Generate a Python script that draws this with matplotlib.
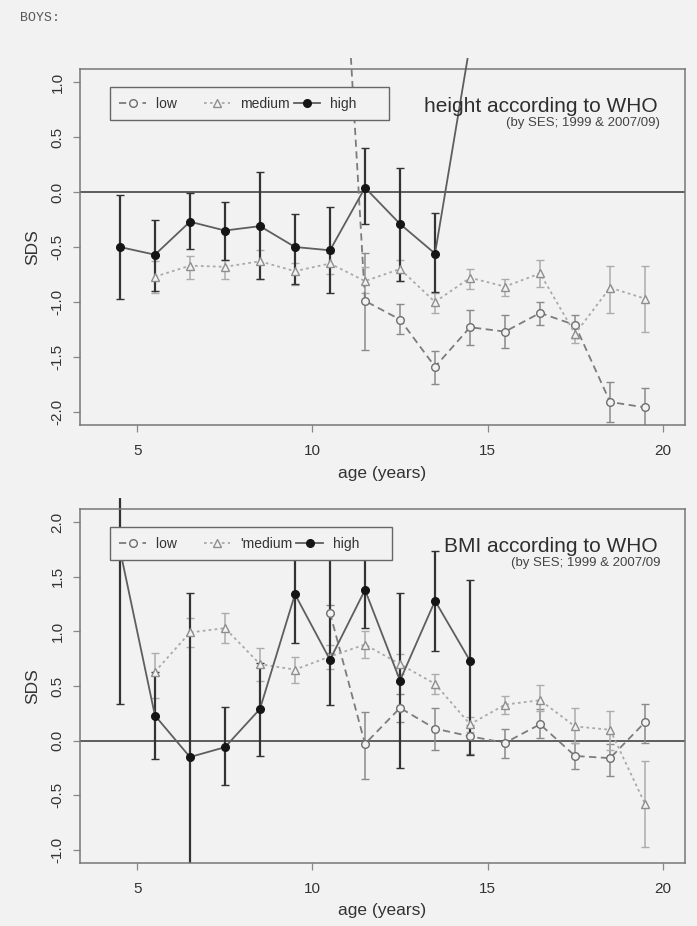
import numpy as np
import matplotlib
matplotlib.use("Agg")
import matplotlib.pyplot as plt
from matplotlib.transforms import Bbox, TransformedBbox

nan = np.nan

# age classes (years)
ages = [4.5, 5.5, 6.5, 7.5, 8.5, 9.5, 10.5, 11.5, 12.5, 13.5, 14.5, 15.5, 16.5, 17.5, 18.5, 19.5]

# height SDS by SES (mean, lower, upper)
height_low = [nan, nan, nan, nan, nan, nan, 4.5, -0.99, -1.16, -1.59, -1.23, -1.27, -1.10, -1.21, -1.91, -1.96]
height_low_lo = [nan, nan, nan, nan, nan, nan, nan, -1.44, -1.29, -1.75, -1.39, -1.42, -1.21, -1.33, -2.09, -2.25]
height_low_hi = [nan, nan, nan, nan, nan, nan, nan, -0.55, -1.02, -1.45, -1.07, -1.12, -1.00, -1.12, -1.73, -1.78]

height_med = [nan, -0.77, -0.67, -0.68, -0.63, -0.72, -0.65, -0.81, -0.70, -1.00, -0.78, -0.86, -0.74, -1.29, -0.87, -0.97]
height_med_lo = [nan, -0.92, -0.79, -0.79, -0.79, -0.85, -0.75, -0.92, -0.81, -1.10, -0.88, -0.95, -0.86, -1.37, -1.10, -1.27]
height_med_hi = [nan, -0.63, -0.58, -0.62, -0.53, -0.65, -0.55, -0.68, -0.62, -0.92, -0.70, -0.79, -0.62, -1.20, -0.67, -0.67]

height_high = [-0.50, -0.57, -0.27, -0.35, -0.31, -0.50, -0.53, 0.04, -0.29, -0.56, 1.35, nan, nan, nan, nan, nan]
height_high_lo = [-0.97, -0.90, -0.52, -0.62, -0.79, -0.84, -0.92, -0.29, -0.81, -0.91, nan, nan, nan, nan, nan, nan]
height_high_hi = [-0.03, -0.25, -0.01, -0.09, 0.18, -0.20, -0.14, 0.40, 0.22, -0.19, nan, nan, nan, nan, nan, nan]

# BMI SDS by SES
bmi_low = [nan, nan, nan, nan, nan, nan, 1.17, -0.03, 0.30, 0.11, 0.04, -0.02, 0.15, -0.14, -0.16, 0.17]
bmi_low_lo = [nan, nan, nan, nan, nan, nan, 0.80, -0.35, 0.17, -0.09, -0.12, -0.16, 0.02, -0.26, -0.32, -0.02]
bmi_low_hi = [nan, nan, nan, nan, nan, nan, 1.24, 0.26, 0.43, 0.30, 0.14, 0.11, 0.29, -0.02, -0.03, 0.34]

bmi_med = [nan, 0.63, 0.99, 1.03, 0.70, 0.65, 0.77, 0.88, 0.70, 0.52, 0.15, 0.33, 0.37, 0.13, 0.10, -0.58]
bmi_med_lo = [nan, 0.39, 0.86, 0.89, 0.55, 0.53, 0.66, 0.76, 0.61, 0.43, 0.08, 0.24, 0.27, -0.02, -0.09, -0.97]
bmi_med_hi = [nan, 0.80, 1.12, 1.17, 0.85, 0.77, 0.88, 1.00, 0.79, 0.61, 0.22, 0.41, 0.51, 0.30, 0.27, -0.19]

bmi_high = [1.75, 0.23, -0.15, -0.06, 0.29, 1.34, 0.74, 1.38, 0.55, 1.28, 0.73, nan, nan, nan, nan, nan]
bmi_high_lo = [0.34, -0.17, -1.30, -0.41, -0.14, 0.89, 0.33, 1.03, -0.25, 0.82, -0.13, nan, nan, nan, nan, nan]
bmi_high_hi = [2.30, 0.63, 1.35, 0.31, 0.71, 1.80, 1.80, 1.80, 1.35, 1.74, 1.47, nan, nan, nan, nan, nan]

BG = "#f2f2f2"
plt.rcParams["font.family"] = ["Liberation Sans", "DejaVu Sans"]
plt.rcParams["axes.unicode_minus"] = False

STYLES = {
    "low": dict(color="#7c7c7c", ls=(0, (4, 2.5)), marker="o", mfc=BG, mec="#6e6e6e", ms=5.5, ecolor="#8a8a8a"),
    "medium": dict(color="#a9a9a9", ls=(0, (1.5, 1.8)), marker="^", mfc=BG, mec="#8e8e8e", ms=6, ecolor="#acacac"),
    "high": dict(color="#5e5e5e", ls="-", marker="o", mfc="#151515", mec="#151515", ms=5.5, ecolor="#333333"),
}

fig = plt.figure(figsize=(6.97, 9.26), dpi=100, facecolor=BG)
ax_top = fig.add_axes([0.1148, 0.5410, 0.8680, 0.3845])
ax_bot = fig.add_axes([0.1148, 0.0680, 0.8680, 0.3823])


def draw_panel(ax, data, ylim, yticks, title, subtitle, clip_top, labels):
    ax.set_facecolor(BG)
    ax.axhline(0, color="#454545", lw=1.2, zorder=1)
    x = np.array(ages)
    artists = []
    handles = []
    for key in ["low", "medium", "high"]:
        y, lo, hi = [np.array(v, dtype=float) for v in data[key]]
        st = STYLES[key]
        m = ~np.isnan(lo)
        eb = ax.errorbar(x[m], y[m], yerr=[y[m] - lo[m], hi[m] - y[m]], fmt="none",
                         ecolor=st["ecolor"], elinewidth=1.6 if key == "high" else 1.1,
                         capsize=3, capthick=1.0, zorder=2)
        artists.extend(eb.get_children())
        ok = ~np.isnan(y)
        ln, = ax.plot(x[ok], y[ok], color=st["color"], ls=st["ls"], lw=1.3,
                      marker=st["marker"], mfc=st["mfc"], mec=st["mec"], ms=st["ms"],
                      mew=1.0, zorder=3)
        artists.append(ln)
        handles.append(ln)

    ax.set_xlim(3.36, 20.64)
    ax.set_ylim(*ylim)
    ax.set_xticks([5, 10, 15, 20])
    ax.set_yticks(yticks)
    ax.set_yticklabels(["%.1f" % t for t in yticks], rotation=90, va="center")
    ax.tick_params(axis="both", length=5, width=0.9, color="#888888", labelsize=11,
                   labelcolor="#333333")
    ax.tick_params(axis="y", pad=6)
    ax.tick_params(axis="x", pad=9)
    for sp in ax.spines.values():
        sp.set_color("#777777")
        sp.set_linewidth(1.1)
    ax.set_xlabel("age (years)", fontsize=12.5, color="#333333")
    ax.xaxis.set_label_coords(0.5, -0.135)
    ax.xaxis.label.set_va("center")
    ax.set_ylabel("SDS", fontsize=12.5, color="#333333")
    ax.yaxis.set_label_coords(-0.078, 0.5)
    ax.yaxis.label.set_va("center")

    ax.text(0.955, 0.895, title, transform=ax.transAxes, ha="right", va="center",
            fontsize=15, color="#2e2e2e")
    ax.text(0.959, 0.848, subtitle, transform=ax.transAxes, ha="right", va="center",
            fontsize=9.5, color="#444444")

    leg = ax.legend(handles, labels, ncol=3, loc="upper left", bbox_to_anchor=(0.0496, 0.949),
                    borderaxespad=0, fontsize=10, frameon=True, fancybox=False, framealpha=1,
                    facecolor=BG, edgecolor="#666666", numpoints=1, handlelength=1.9,
                    handletextpad=0.7, columnspacing=0.3, borderpad=0.68, labelcolor="#333333")
    leg.get_frame().set_linewidth(1.0)
    leg.set_zorder(10)

    # lines may run a little beyond the plot box, as in the original
    pos = ax.get_position()
    box = TransformedBbox(Bbox([[pos.x0, pos.y0], [pos.x1, clip_top]]), fig.transFigure)
    for a in artists:
        a.set_clip_path(None)
        a.set_clip_box(box)


draw_panel(ax_top,
           {"low": (height_low, height_low_lo, height_low_hi),
            "medium": (height_med, height_med_lo, height_med_hi),
            "high": (height_high, height_high_lo, height_high_hi)},
           (-2.12, 1.12), [-2.0, -1.5, -1.0, -0.5, 0.0, 0.5, 1.0],
           "height according to WHO", "(by SES; 1999 & 2007/09)",
           1 - 58 / 926, ["low      ", "medium", "high      "])

draw_panel(ax_bot,
           {"low": (bmi_low, bmi_low_lo, bmi_low_hi),
            "medium": (bmi_med, bmi_med_lo, bmi_med_hi),
            "high": (bmi_high, bmi_high_lo, bmi_high_hi)},
           (-1.12, 2.12), [-1.0, -0.5, 0.0, 0.5, 1.0, 1.5, 2.0],
           "BMI according to WHO", "(by SES; 1999 & 2007/09",
           1 - 498 / 926, ["low      ", "'medium", "high      "])

fig.text(0.028, 1 - 18 / 926, "BOYS:", family="Liberation Mono", fontsize=9.5,
         color="#555555", va="center")

fig.savefig("out.png", dpi=100, facecolor=BG)
